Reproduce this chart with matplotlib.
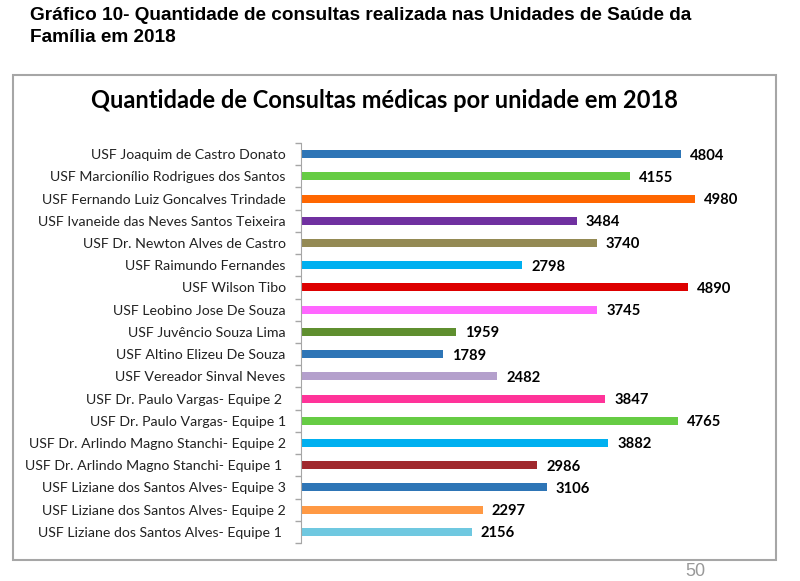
import matplotlib.pyplot as plt
from matplotlib.patches import Rectangle

# ── data ─────────────────────────────────────────────────────────────────────
unidades = [
    "USF Joaquim de Castro Donato",
    "USF Marcionílio Rodrigues dos Santos",
    "USF Fernando Luiz Goncalves Trindade",
    "USF Ivaneide das Neves Santos Teixeira",
    "USF Dr. Newton Alves de Castro",
    "USF Raimundo Fernandes",
    "USF Wilson Tibo",
    "USF Leobino Jose De Souza",
    "USF Juvêncio Souza Lima",
    "USF Altino Elizeu De Souza",
    "USF Vereador Sinval Neves",
    "USF Dr. Paulo Vargas- Equipe 2 ",
    "USF Dr. Paulo Vargas- Equipe 1",
    "USF Dr. Arlindo Magno Stanchi- Equipe 2",
    "USF Dr. Arlindo Magno Stanchi- Equipe 1 ",
    "USF Liziane dos Santos Alves- Equipe 3",
    "USF Liziane dos Santos Alves- Equipe 2",
    "USF Liziane dos Santos Alves- Equipe 1 ",
]
consultas = [4804, 4155, 4980, 3484, 3740, 2798, 4890, 3745, 1959,
             1789, 2482, 3847, 4765, 3882, 2986, 3106, 2297, 2156]
cores = ["#2E75B6", "#66CC44", "#FF6600", "#7030A0", "#948A54", "#00B0F0",
         "#DD0000", "#FF66FF", "#5F8F2F", "#2E75B6", "#B4A0CC", "#FF3399",
         "#66CC44", "#00B0F0", "#A0282D", "#2E75B6", "#FF9944", "#6FC8E0"]

# ── figure ───────────────────────────────────────────────────────────────────
W, H = 800, 581
fig = plt.figure(figsize=(W / 100, H / 100), dpi=100)

# page header
fig.text(30 / W, 1 - 15 / H, "Gráfico 10- Quantidade de consultas realizada nas Unidades de Saúde da",
         family="Liberation Sans", weight="bold", fontsize=13.7, va="center", ha="left")
fig.text(30 / W, 1 - 37 / H, "Família em 2018",
         family="Liberation Sans", weight="bold", fontsize=13.7, va="center", ha="left")

# chart frame
fig.patches.append(Rectangle((13 / W, 1 - 560 / H), (776 - 13) / W, (560 - 75) / H,
                             transform=fig.transFigure, fill=False,
                             edgecolor="#A6A6A6", linewidth=1.5))
fig.text(384 / W, 1 - 101 / H, "Quantidade de Consultas médicas por unidade em 2018",
         family="Lato", weight="bold", fontsize=17, ha="center", va="center")

# bars
ax = fig.add_axes([301 / W, 1 - 543 / H, 459 / W, 400 / H])
pos = list(range(len(unidades)))
ax.barh(pos, consultas, height=0.36, color=cores)
for p, v in zip(pos, consultas):
    ax.annotate(str(v), (v, p), xytext=(6.5, -1), textcoords="offset points",
                va="center", ha="left", family="Lato", weight="bold", fontsize=10.6)

ax.set_xlim(0, 459 / 0.0791)
ax.set_ylim(len(unidades) - 0.5, -0.5)
ax.set_yticks(pos)
ax.set_yticklabels(unidades, family="Lato", fontsize=10.2, color="#222222")
ax.set_yticks([p - 0.5 for p in pos] + [len(pos) - 0.5], minor=True)
ax.tick_params(axis="y", which="major", length=0, pad=11)
ax.tick_params(axis="y", which="minor", length=4, color="#A6A6A6", width=1)
ax.set_xticks([])
for s in ["top", "right", "bottom"]:
    ax.spines[s].set_visible(False)
ax.spines["left"].set_color("#A6A6A6")
ax.patch.set_alpha(0)

# page number
fig.text(695 / W, 1 - 572 / H, "50", family="Liberation Sans", fontsize=13,
         color="#999999", ha="center", va="center")

plt.savefig("out.png", dpi=100)
